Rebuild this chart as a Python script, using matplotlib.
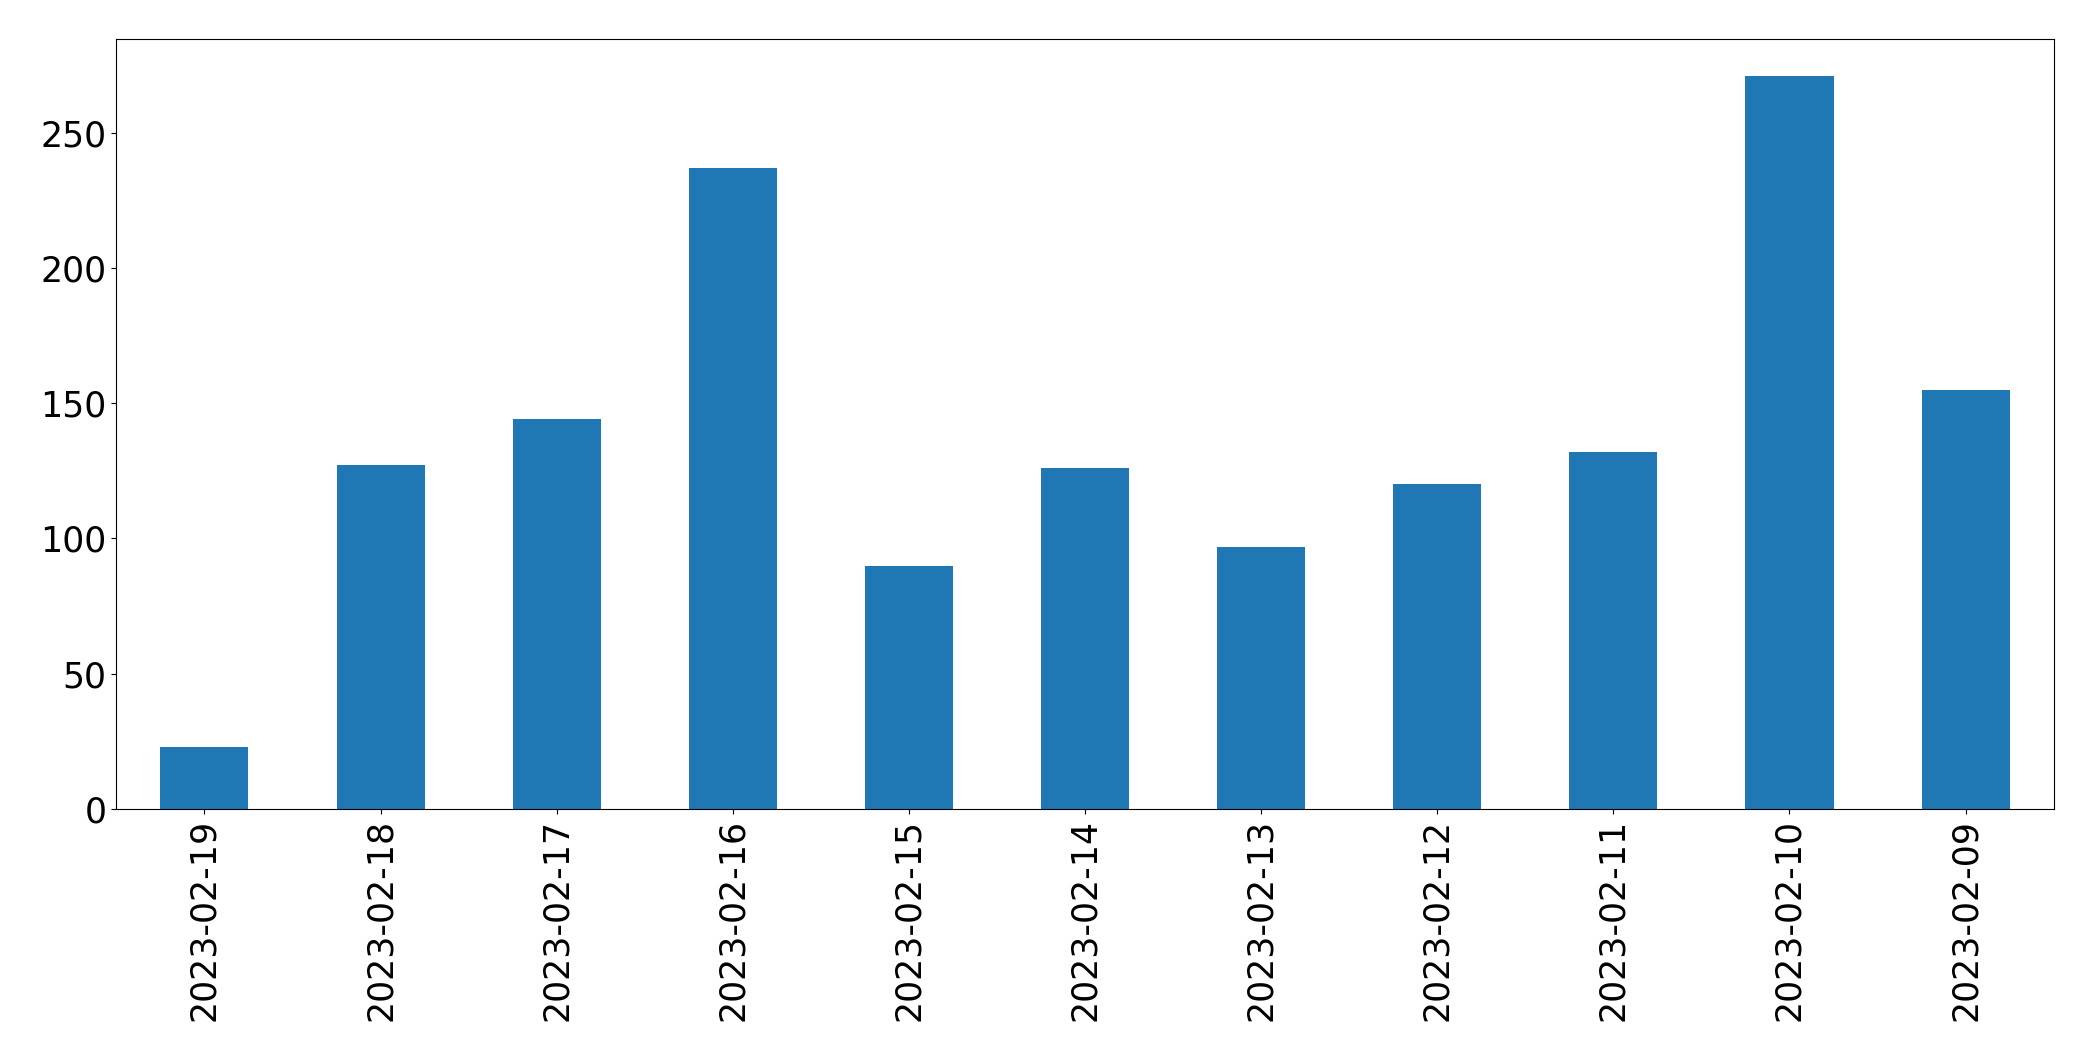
import matplotlib
matplotlib.use("Agg")
import matplotlib.pyplot as plt
import pandas as pd

DATES = ['2023-02-19', '2023-02-18', '2023-02-17', '2023-02-16', '2023-02-15',
         '2023-02-14', '2023-02-13', '2023-02-12', '2023-02-11', '2023-02-10',
         '2023-02-09']
COUNTS = [23, 127, 144, 237, 90, 126, 97, 120, 132, 271, 155]

s = pd.Series(COUNTS, index=DATES)

fig, ax = plt.subplots(figsize=(20.93, 10.61), dpi=100)
s.plot.bar(ax=ax, color='#1f77b4', fontsize=25)
fig.subplots_adjust(left=0.0556, right=0.9812, top=0.963, bottom=0.2375)

fig.savefig('out.png', dpi=100)
